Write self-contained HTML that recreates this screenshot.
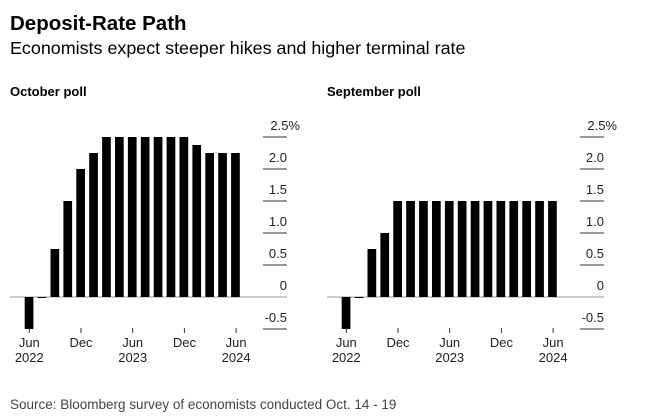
<!DOCTYPE html>
<html><head><meta charset="utf-8"><style>
body{margin:0;background:#fff;}
svg{display:block;font-family:"Liberation Sans",sans-serif;}
</style></head><body>
<svg id="c" width="646" height="420">
<text x="10" y="30" font-size="20.5" font-weight="bold" fill="#000">Deposit-Rate Path</text>
<text x="10" y="54" font-size="17.9" fill="#000">Economists expect steeper hikes and higher terminal rate</text>
<text x="10" y="96" font-size="13" font-weight="bold">October poll</text>
<text x="327" y="96" font-size="13" font-weight="bold">September poll</text>
<text x="10" y="409" font-size="13.5" fill="#444">Source: Bloomberg survey of economists conducted Oct. 14 - 19</text>
</svg>
<script>
const octoberValues=[-0.5,0,0.75,1.5,2.0,2.25,2.5,2.5,2.5,2.5,2.5,2.5,2.5,2.375,2.25,2.25,2.25];
const septemberValues=[-0.5,0,0.75,1.0,1.5,1.5,1.5,1.5,1.5,1.5,1.5,1.5,1.5,1.5,1.5,1.5,1.5];
const yTicks=[-0.5,0,0.5,1.0,1.5,2.0,2.5];
const yTickLabels=["-0.5","0","0.5","1.0","1.5","2.0","2.5%"];
const xTickIndex=[0,4,8,12,16];
const xTickMonth=["Jun","Dec","Jun","Dec","Jun"];
const xTickYear=["2022","","2023","","2024"];
const svg=document.getElementById('c');
const NS='http://www.w3.org/2000/svg';
function mk(t,a){const e=document.createElementNS(NS,t);for(const k in a)e.setAttribute(k,a[k]);svg.appendChild(e);return e;}
const y=v=>297-v*64;
function panel(vals,ox,name){
  const bx=i=>ox+24.7+i*12.9;
  const tickX0=ox+29.3, tickStep=51.7/4;
  let z=mk('line',{x1:ox+10,x2:ox+287,y1:y(0),y2:y(0),stroke:'#999','stroke-width':1});
  
  yTicks.forEach((t,i)=>{
    if(t!==0){const g=mk('line',{x1:ox+263,x2:ox+287,y1:y(t),y2:y(t),stroke:'#333','stroke-width':1});
    }
    const isPct=yTickLabels[i].includes('%');
    const tx=mk('text',{x:isPct?ox+300:ox+287,y:y(t)-7,'font-size':13,'text-anchor':'end',fill:'#222'});
    tx.textContent=yTickLabels[i];
    
  });
  vals.forEach((v,i)=>{
    const h=Math.abs(v*64);
    const r=mk('rect',{x:bx(i),y:v>=0?y(v):y(0),width:8.7,height:Math.max(h,1),fill:'#000'});
    
  });
  xTickIndex.forEach((k,j)=>{
    const x=tickX0+k*tickStep;
    const l=mk('line',{x1:x,x2:x,y1:328,y2:333,stroke:'#333','stroke-width':1});
    
    const m=mk('text',{x:x,y:347,'font-size':13,'text-anchor':'middle',fill:'#222'});m.textContent=xTickMonth[j];
    
    if(xTickYear[j]){const yy=mk('text',{x:x,y:362,'font-size':13,'text-anchor':'middle',fill:'#222'});yy.textContent=xTickYear[j];
    }
  });
}
panel(octoberValues,0,'october');
panel(septemberValues,317,'september');
</script>
</body></html>
